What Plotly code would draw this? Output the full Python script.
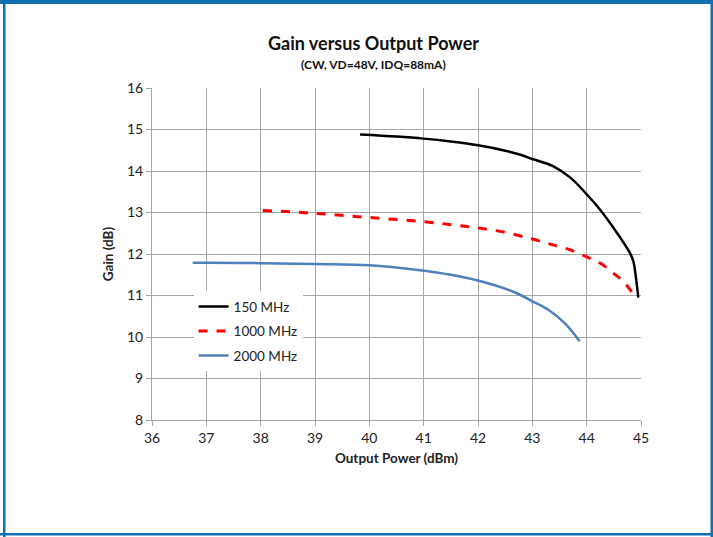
import plotly.graph_objects as go

# Data
x_150 = [39.83, 40.5, 41.0, 41.5, 42.0, 42.5, 42.78, 43.0, 43.38, 43.7, 44.0, 44.24, 44.5, 44.79, 44.86, 44.91, 44.95]
y_150 = [14.88, 14.83, 14.78, 14.71, 14.62, 14.49, 14.39, 14.29, 14.12, 13.84, 13.44, 13.08, 12.62, 12.04, 11.82, 11.40, 10.95]

x_1000 = [38.04, 39.0, 40.0, 41.0, 41.55, 42.0, 42.5, 43.0, 43.38, 43.7, 44.0, 44.25, 44.48, 44.7, 44.9]
y_1000 = [13.05, 12.98, 12.88, 12.78, 12.70, 12.63, 12.52, 12.36, 12.22, 12.10, 11.93, 11.78, 11.55, 11.30, 10.95]

x_2000 = [36.75, 37.0, 38.0, 39.0, 40.0, 40.93, 41.5, 42.0, 42.65, 43.0, 43.3, 43.6, 43.87]
y_2000 = [11.79, 11.79, 11.78, 11.76, 11.73, 11.61, 11.50, 11.36, 11.09, 10.86, 10.65, 10.33, 9.90]

series_names = ["150 MHz", "1000 MHz", "2000 MHz"]
x_ticks = [36, 37, 38, 39, 40, 41, 42, 43, 44, 45]
y_ticks = [8, 9, 10, 11, 12, 13, 14, 15, 16]

FONT = "Lato, Open Sans, sans-serif"

fig = go.Figure()
fig.add_trace(go.Scatter(x=x_150, y=y_150, name=series_names[0], mode="lines", legendgroup="a",
                         line=dict(color="#000000", width=2.5, shape="spline", smoothing=1.0)))
fig.add_trace(go.Scatter(x=x_1000, y=y_1000, name=series_names[1], mode="lines", legendgroup="b",
                         line=dict(color="#ff0000", width=3, dash="dash", shape="spline")))
fig.add_trace(go.Scatter(x=x_2000, y=y_2000, name=series_names[2], mode="lines", legendgroup="c",
                         line=dict(color="#4f81bd", width=2.5, shape="spline")))

L, R, T, B = 152, 72, 88, 117
W, H = 713, 537
pw = W - L - R
ph = H - T - B

def px_x(p):
    return (p - L) / pw

def px_y(p):
    return (H - B - p) / ph

border = "#1070b0"
shapes = [
    dict(type="rect", xref="paper", yref="paper", x0=px_x(0), x1=px_x(713), y0=px_y(3.5), y1=px_y(0),
         fillcolor=border, line=dict(width=0), layer="above"),
    dict(type="rect", xref="paper", yref="paper", x0=px_x(3), x1=px_x(5.5), y0=px_y(537), y1=px_y(0),
         fillcolor=border, line=dict(width=0), layer="above"),
    dict(type="rect", xref="paper", yref="paper", x0=px_x(0), x1=px_x(713), y0=px_y(535.5), y1=px_y(533),
         fillcolor=border, line=dict(width=0), layer="above"),
    dict(type="rect", xref="paper", yref="paper", x0=px_x(710.5), x1=px_x(713), y0=px_y(537), y1=px_y(0),
         fillcolor=border, line=dict(width=0), layer="above"),
]

fig.update_layout(
    width=W, height=H,
    margin=dict(l=L, r=R, t=T, b=B),
    paper_bgcolor="white", plot_bgcolor="white",
    font=dict(family=FONT, color="#222222", size=14),
    showlegend=True,
    legend=dict(x=0.085, y=0.388, xanchor="left", yanchor="top",
                bgcolor="white", font=dict(size=13.5, family=FONT, color="#222222"),
                traceorder="grouped", tracegroupgap=4, itemwidth=30),
    shapes=shapes,
    annotations=[
        dict(text="<b>Gain versus Output Power</b>", xref="paper", yref="paper",
             x=px_x(373), y=px_y(43), xanchor="center", yanchor="middle", showarrow=False,
             font=dict(size=18, family=FONT, color="#111111")),
        dict(text="<b>(CW, VD=48V, IDQ=88mA)</b>", xref="paper", yref="paper",
             x=px_x(373), y=px_y(64), xanchor="center", yanchor="middle", showarrow=False,
             font=dict(size=12, family=FONT, color="#111111")),
    ],
)

fig.update_xaxes(range=[36, 45], tickvals=x_ticks, ticktext=[str(v) for v in x_ticks],
                 showgrid=True, gridcolor="#a6a6a6", gridwidth=1,
                 showline=True, linecolor="#a6a6a6", linewidth=1,
                 ticks="outside", ticklen=5, tickcolor="#a6a6a6",
                 zeroline=False, tickfont=dict(size=14),
                 title=dict(text="<b>Output Power (dBm)</b>", font=dict(size=13.5), standoff=8))
fig.update_yaxes(range=[8, 16], tickvals=y_ticks, ticktext=[str(v) for v in y_ticks],
                 showgrid=True, gridcolor="#a6a6a6", gridwidth=1,
                 showline=True, linecolor="#a6a6a6", linewidth=1,
                 ticks="outside", ticklen=5, tickcolor="#a6a6a6",
                 zeroline=False, tickfont=dict(size=14),
                 title=dict(text="<b>Gain (dB)</b>", font=dict(size=13.5), standoff=10))

js = (
    "document.body.style.margin='0';document.body.style.overflow='hidden';"
    "var tb=document.createElement('div');"
    "tb.style.cssText='position:fixed;left:0;top:0;width:713px;height:3.5px;background:#1070b0;z-index:1000;pointer-events:none;';"
    "document.body.appendChild(tb);"
)
fig.write_html("out.html", config={"displayModeBar": False}, post_script=js)
